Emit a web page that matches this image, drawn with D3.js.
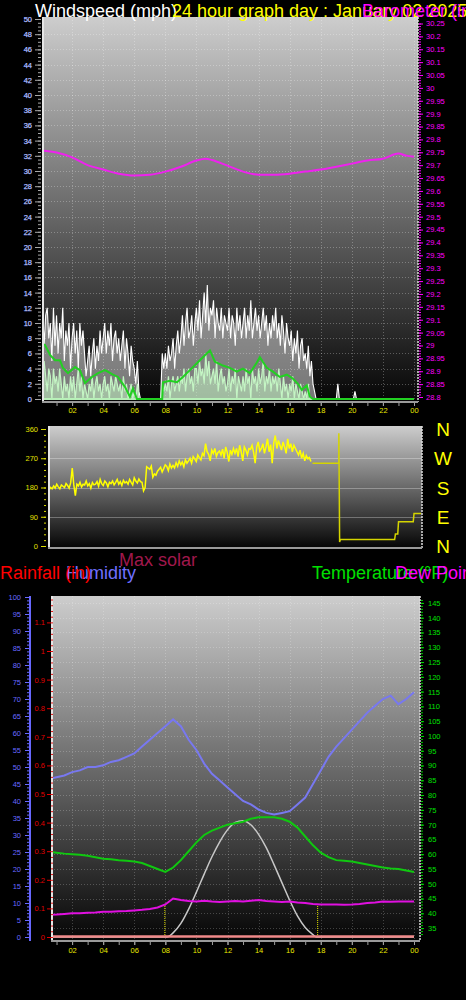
<!DOCTYPE html>
<html><head><meta charset="utf-8">
<script src="https://cdn.jsdelivr.net/npm/d3@7"></script>
<style>body{margin:0;background:#000}svg{display:block}text{font-family:"Liberation Sans",Arial,sans-serif}</style>
</head><body><svg id="c" width="466" height="1000"></svg>
<script>
// ---------------- DATA ----------------
const xLabelHours = [2,4,6,8,10,12,14,16,18,20,22,24];
const xLabels = ["02","04","06","08","10","12","14","16","18","20","22","00"];

// wind gust (mph), 6-minute samples from 00:00
const gust = [
9,12,7,11,12,8,10,5,12,7, 11,6,10,8,12,5,9,7,10,4, 8,10,6,9,4,10,7,9,6,3,
5,7,3,6,8,4,7,5,9,6, 8,10,6,9,7,10,5,8,9,6, 8,5,7,9,4,8,6,3,7,5,
4,2,5,1,0,0,0,0,0,0, 0,0,0,0,0,0,0,0,6,4, 6,4,7,5,6,8,4,7,9,6,
8,11,7,10,12,8,9,11,7,10, 12,9,13,8,11,14,10,15,9,12, 11,13,8,12,10,9,12,8,11,10,
9,12,8,11,10,7,12,9,11,8, 10,12,8,11,9,13,8,10,12,9, 11,8,10,12,9,11,7,10,8,11,
9,12,8,10,7,11,9,6,10,8, 7,9,5,8,6,9,4,7,8,5, 6,4,7,3,5,2,1,0,0,0,
0,0,0,0,0,0,0,0,0,0, 0,2,0,0,0,0,0,0,0,0, 0,0,1,0,0,0,0,0,0,0,
0,0,0,0,0,0,0,0,0,0, 0,0,0,0,0,0,0,0,0,0, 0,0,0,0,0,0,0,0,0,0, 0];
// wind speed (mph), 6-minute samples
const wind = [
4,2,5,3,1,4,3,0,4,2, 3,1,4,2,0,3,1,2,0,3, 1,3,0,2,4,1,3,0,2,1,
0,2,1,3,0,2,3,1,2,0, 2,3,1,2,0,3,2,1,3,2, 1,2,0,3,1,2,0,1,2,0,
1,0,2,0,0,0,0,0,0,0, 0,0,0,0,0,0,0,0,2,1, 2,1,3,0,2,3,1,2,3,1,
3,2,4,1,3,4,2,3,1,4, 4,2,5,3,4,2,6,3,5,2, 3,4,2,5,1,3,4,2,3,1,
2,4,1,3,2,4,0,3,2,1, 3,1,4,2,3,0,4,2,3,1, 4,2,3,5,1,3,2,4,1,3,
2,3,1,4,2,0,3,1,2,0, 2,1,3,0,2,1,0,2,1,0, 1,0,2,0,0,0,0,0,0,0,
0,0,0,0,0,0,0,0,0,0, 0,0,0,0,0,0,0,0,0,0, 0,0,0,0,0,0,0,0,0,0,
0,0,0,0,0,0,0,0,0,0, 0,0,0,0,0,0,0,0,0,0, 0,0,0,0,0,0,0,0,0,0, 0];
// average wind speed
const avgHours  = [0,0.26,0.58,0.9,1.22,1.41,1.74,2.19,2.5,2.83,3.28,3.67,4.12,4.63,4.95,5.4,5.72,5.92,6.17,7.8,7.85,8.3,8.75,9.13,9.58,10.03,10.42,10.87,11.19,11.7,12.15,12.6,12.99,13.44,13.89,14.08,14.53,14.92,15.37,15.82,16.2,16.53,16.78,17.1,17.3,17.5,24];
const avgValues = [7.3,7.1,5.8,5.1,5.1,4.1,3.4,4.2,3.8,2.1,2.9,3.4,3.8,3.2,2.9,1.6,0.3,1.4,0,0,2.2,2.4,2.2,2.9,3.8,4.7,5.5,6.4,4.9,4.4,4.1,3.6,4.0,3.4,4.8,5.5,4.1,3.6,2.9,3.2,2.7,2.0,1.2,1.8,0.3,0,0];
// barometer (inHg)
const baroHours  = [0,1,2,3,4,5,6,7,8,9,10,10.6,11,12,13,14,15,16,17,18,19,20,21,22,23,23.5,24];
const baroValues = [29.757,29.749,29.73,29.70,29.683,29.667,29.66,29.663,29.675,29.694,29.718,29.725,29.72,29.698,29.675,29.663,29.663,29.667,29.675,29.683,29.694,29.706,29.718,29.725,29.745,29.737,29.733];

// wind direction (deg), 6-minute samples 00:00-17:00
const dirValues = [
172,180,176,185,178,190,182,176,188,184, 180,192,186,178,195,240,188,155,190,185,
196,182,190,188,200,185,192,178,195,188, 190,198,184,205,192,186,200,194,182,196,
192,200,188,196,205,190,198,186,202,194, 198,190,205,196,188,210,200,194,206,198,
196,170,180,244,240,236,246,212,222,218, 230,236,242,228,238,250,245,232,252,240,
248,240,256,245,262,250,258,244,265,255, 262,270,255,275,268,260,280,272,265,285,
278,315,290,282,262,295,285,300,276,288, 292,280,298,270,305,288,260,295,282,300,
285,300,275,310,290,262,305,295,280,300, 298,310,288,255,305,320,292,300,315,285,
305,330,290,312,255,318,340,300,325,310, 295,320,305,285,330,300,315,290,310,300,
290,280,295,270,285,262,278,268,272,260];
const dirTailHours  = [17.0,18.7,18.7,18.75,18.8,22.3,22.35,22.5,22.55,23.5,23.55,24];
const dirTailValues = [255,255,347,12,20,20,37,37,75,75,100,100];
const compass = ["N","W","S","E","N"];
const compassDeg = [360,270,180,90,0];

// bottom chart, half-hour samples
const humidity = [46,46.5,47,47.5,48.5,49,50,50,50.5,51.5,52,53,54,56,58,60,62,64,62,58,55,51,48,46,44,42,40,39,37.5,36.5,36,36.5,37,39,41,45,49,53,56,58.5,61,63.5,66,68,70,71,68.5,70,72];
const temperature = [61,60.8,60.5,60.2,60,59.8,59.5,59,58.5,58.3,58,57.8,57.5,57,56,55,54,55.5,58,61,64,66.5,68,69,70,70.5,71,72,72.5,72.5,72.5,72,71,69,66,63,60.5,59,58,57.8,57.5,57,56.5,56,55.5,55.2,55,54.5,54];
const dewPoint = [39.5,39.5,39.6,39.8,40,40,40.2,40.3,40.5,40.5,40.7,40.8,41,41.2,41.5,42,43,45,44.5,44.2,44,44.3,44,43.8,44,44.2,44,44.3,44.5,44.2,44,43.8,44,43.7,43.5,43.2,43,43,43,42.9,43,43.2,43.5,43.7,44,43.9,44,44,44];
const solarHours  = [0,8.1,8.5,9,9.5,10,10.5,11,11.5,12,12.5,13,13.5,14,14.5,15,15.5,16,16.5,17,17.5,17.7,24];
const solarValues = [0,0,12,40,82,132,185,236,280,315,337,342,330,302,262,212,160,108,62,28,7,0,0];
const sunHours = [7.97,17.8];
const rainHours = [0,24];
const rainValues = [0,0];

// ---------------- DRAW ----------------
const svg = d3.select("#c");
const defs = svg.append("defs");
svg.append("rect").attr("width",466).attr("height",1000).attr("fill","#000");

function panel(id, x0, x1, y0, y1){
  const g = defs.append("linearGradient").attr("id","g"+id).attr("gradientUnits","userSpaceOnUse")
    .attr("x1",0).attr("x2",0).attr("y1",y0).attr("y2",y1);
  g.append("stop").attr("offset",0).attr("stop-color","#cdcdcd");
  g.append("stop").attr("offset",0.5).attr("stop-color","#6a6a6a");
  g.append("stop").attr("offset",1).attr("stop-color","#050505");
  defs.append("clipPath").attr("id","c"+id).append("rect").attr("x",x0).attr("y",y0).attr("width",x1-x0).attr("height",y1-y0);
  svg.append("rect").attr("x",x0).attr("y",y0).attr("width",x1-x0).attr("height",y1-y0).attr("fill","url(#g"+id+")");
  return svg.append("g").attr("clip-path","url(#c"+id+")");
}
function borders(x0,x1,y0,y1){
  svg.append("line").attr("x1",x0+1).attr("x2",x0+1).attr("y1",y0).attr("y2",y1).attr("stroke","#e6e6e6").attr("stroke-width",2);
  svg.append("line").attr("x1",x1).attr("x2",x1).attr("y1",y0).attr("y2",y1).attr("stroke","#dcdcdc").attr("stroke-width",1.5).attr("stroke-dasharray","2,1");
  svg.append("line").attr("x1",x0).attr("x2",x1).attr("y1",y1).attr("y2",y1).attr("stroke","#9a9a9a").attr("stroke-width",2);
}
function axis(gen, x, y, color, fontSize){
  const g = svg.append("g").attr("transform",`translate(${x},${y})`).call(gen);
  g.select(".domain").remove();
  g.selectAll("line").attr("stroke",color);
  g.selectAll("text").attr("fill",color).attr("font-size",fontSize).attr("font-family","Liberation Sans, Arial, sans-serif");
  return g;
}
const fmtNum = d => String(+d.toFixed(2));

// ===== Top panel: wind & barometer =====
const T = {x0:42, x1:418, y0:17, y1:402};
const xTop = d3.scaleLinear().domain([0,24]).range([41,414]);
const yWind = d3.scaleLinear().domain([0,50]).range([399,19]);
const yBaro = d3.scaleLinear().domain([28.8,30.25]).range([397,23.5]);
const gTop = panel("top", T.x0, T.x1, T.y0, T.y1);

gTop.selectAll(".hg").data(d3.range(2,50,2)).join("line")
  .attr("x1",T.x0).attr("x2",T.x1).attr("y1",d=>Math.round(yWind(d))+0.5).attr("y2",d=>Math.round(yWind(d))+0.5)
  .attr("stroke","#ffffff").attr("stroke-opacity",0.28).attr("stroke-dasharray","1,2");
gTop.selectAll(".vg").data(xLabelHours).join("line")
  .attr("x1",d=>Math.round(xTop(d))+0.5).attr("x2",d=>Math.round(xTop(d))+0.5).attr("y1",T.y0).attr("y2",T.y1)
  .attr("stroke","#ffffff").attr("stroke-opacity",0.28).attr("stroke-dasharray","1,2");

const t10 = (d,i)=>xTop(i/10);
gTop.append("path").datum(gust).attr("fill","#ffffff").attr("fill-opacity",0.45)
  .attr("d", d3.area().x(t10).y0(yWind(0)).y1(d=>yWind(d)));
gTop.append("path").datum(gust).attr("fill","none").attr("stroke","#ffffff").attr("stroke-width",1.1)
  .attr("d", d3.line().x(t10).y(d=>yWind(d)));
gTop.append("path").datum(wind).attr("fill","#c4f5c4").attr("fill-opacity",0.55)
  .attr("d", d3.area().x(t10).y0(yWind(0)).y1(d=>yWind(d)));
gTop.append("path").datum(wind).attr("fill","none").attr("stroke","#c4f5c4").attr("stroke-width",1.2)
  .attr("d", d3.line().x(t10).y(d=>yWind(d)));
gTop.append("path").datum(wind.map(()=>0)).attr("fill","none").attr("stroke","#b8f0b8").attr("stroke-width",2)
  .attr("d", d3.line().x(t10).y(d=>yWind(d)));
gTop.append("path").datum(avgHours.map((h,i)=>[h,avgValues[i]])).attr("fill","none").attr("stroke","#22d022").attr("stroke-width",2)
  .attr("d", d3.line().x(d=>xTop(d[0])).y(d=>yWind(d[1])));
gTop.append("path").datum(baroHours.map((h,i)=>[h,baroValues[i]])).attr("fill","none").attr("stroke","#ee22ee").attr("stroke-width",2)
  .attr("d", d3.line().curve(d3.curveMonotoneX).x(d=>xTop(d[0])).y(d=>yBaro(d[1])));
borders(T.x0,T.x1,T.y0,T.y1);

axis(d3.axisLeft(yWind).tickValues(d3.range(0,50.01,0.5)).tickSize(3).tickFormat(""), 41, 0, "#a8a8a8", 0);
axis(d3.axisLeft(yWind).tickValues(d3.range(0,50.01,2)).tickSize(6).tickPadding(3).tickFormat(d3.format("d")), 41, 0, "#a8a8a8", "7.5px")
  .selectAll("text").attr("fill","#eef2ff").attr("stroke","#6f86ff").attr("stroke-width",0.25);
axis(d3.axisRight(yBaro).tickValues(d3.range(28.8,30.2501,0.01)).tickSize(2).tickFormat(""), 419, 0, "#ff00ff", 0);
axis(d3.axisRight(yBaro).tickValues(d3.range(0,30).map(i=>28.8+i*0.05)).tickSize(4).tickPadding(3).tickFormat(fmtNum), 419, 0, "#ff00ff", "7.5px");
axis(d3.axisBottom(xTop).tickValues(d3.range(1,25,1)).tickSize(3).tickFormat(""), 0, 403, "#a0a0a0", 0);
axis(d3.axisBottom(xTop).tickValues(xLabelHours).tickSize(3).tickPadding(2).tickFormat((d,i)=>xLabels[i]), 0, 403, "#a0a0a0", "7.5px")
  .selectAll("text").attr("fill","#e8e800");

// ===== Direction panel =====
const D = {x0:48, x1:422, y0:426, y1:548};
const xDir = d3.scaleLinear().domain([0,24]).range([49,421]);
const yDir = d3.scaleLinear().domain([0,360]).range([546,429]);
const gDir = panel("dir", D.x0, D.x1, D.y0, D.y1);
gDir.selectAll(".hg").data([90,180,270]).join("line")
  .attr("x1",D.x0).attr("x2",D.x1).attr("y1",d=>Math.round(yDir(d))+0.5).attr("y2",d=>Math.round(yDir(d))+0.5)
  .attr("stroke","#ffffff").attr("stroke-opacity",0.3);
gDir.append("path").datum(dirValues).attr("fill","none").attr("stroke","#ffff00").attr("stroke-width",1.5)
  .attr("d", d3.line().x((d,i)=>xDir(i/10)).y(d=>yDir(d)));
gDir.append("path").datum(dirTailHours.map((h,i)=>[h,dirTailValues[i]])).attr("fill","none").attr("stroke","#d4d400").attr("stroke-width",1.5)
  .attr("d", d3.line().x(d=>xDir(d[0])).y(d=>yDir(d[1])));
borders(D.x0,D.x1,D.y0,D.y1);
axis(d3.axisLeft(yDir).tickValues(d3.range(0,360.1,18)).tickSize(2).tickFormat(""), 46, 0, "#e0e000", 0);
axis(d3.axisLeft(yDir).tickValues([0,90,180,270,360]).tickSize(5).tickPadding(3).tickFormat(d3.format("d")), 46, 0, "#e0e000", "7.5px");
svg.selectAll(".cmp").data(compass).join("text").attr("x",443).attr("y",(d,i)=>yDir(compassDeg[i])+7)
  .attr("text-anchor","middle").attr("fill","#ffff00").attr("font-size","19px").text(d=>d);

// ===== Bottom panel =====
const B = {x0:51, x1:420, y0:596, y1:941};
const xBot = d3.scaleLinear().domain([0,24]).range([41,414]);
const yHum = d3.scaleLinear().domain([0,100]).range([937,597]);
const yRain = d3.scaleLinear().domain([0,1]).range([937,651]);
const yTemp = d3.scaleLinear().domain([32,147]).range([937,597]);
const ySolar = d3.scaleLinear().domain([0,1000]).range([937,597]);
const gBot = panel("bot", B.x0, B.x1, B.y0, B.y1);
gBot.selectAll(".hg").data(d3.range(35,146,5)).join("line")
  .attr("x1",B.x0).attr("x2",B.x1).attr("y1",d=>Math.round(yTemp(d))+0.5).attr("y2",d=>Math.round(yTemp(d))+0.5)
  .attr("stroke","#ffffff").attr("stroke-opacity",0.22).attr("stroke-dasharray","1,2");
gBot.selectAll(".vg").data(xLabelHours).join("line")
  .attr("x1",d=>Math.round(xBot(d))+0.5).attr("x2",d=>Math.round(xBot(d))+0.5).attr("y1",B.y0).attr("y2",B.y1)
  .attr("stroke","#ffffff").attr("stroke-opacity",0.22).attr("stroke-dasharray","1,2");
const half = (d,i)=>xBot(i/2);
gBot.append("path").datum(solarHours.map((h,i)=>[h,solarValues[i]])).attr("fill","none").attr("stroke","#c8c8c8").attr("stroke-width",1.5)
  .attr("d", d3.line().curve(d3.curveMonotoneX).x(d=>xBot(d[0])).y(d=>ySolar(d[1])));
gBot.selectAll(".sun").data(sunHours).join("line")
  .attr("x1",d=>xBot(d)).attr("x2",d=>xBot(d)).attr("y1",yTemp(42.5)).attr("y2",yTemp(32))
  .attr("stroke","#e8e800").attr("stroke-width",1).attr("stroke-dasharray","1,1");
gBot.append("path").datum(humidity).attr("fill","none").attr("stroke","#7878f0").attr("stroke-width",2)
  .attr("d", d3.line().x(half).y(d=>yHum(d)));
gBot.append("path").datum(temperature).attr("fill","none").attr("stroke","#10c810").attr("stroke-width",2)
  .attr("d", d3.line().x(half).y(d=>yTemp(d)));
gBot.append("path").datum(dewPoint).attr("fill","none").attr("stroke","#e010e0").attr("stroke-width",2)
  .attr("d", d3.line().x(half).y(d=>yTemp(d)));
gBot.append("path").datum(rainHours.map((h,i)=>[h,rainValues[i]])).attr("fill","none").attr("stroke","#f08a8a").attr("stroke-width",2.5)
  .attr("d", d3.line().x(d=>xBot(d[0])).y(d=>yRain(d[1])-0.5));
borders(B.x0,B.x1,B.y0,B.y1);

// humidity axis
svg.append("line").attr("x1",30).attr("x2",30).attr("y1",596).attr("y2",941).attr("stroke","#6868ff").attr("stroke-width",2);
axis(d3.axisLeft(yHum).tickValues(d3.range(0,100.1,1)).tickSize(2).tickFormat(""), 29, 0, "#6868ff", 0);
axis(d3.axisLeft(yHum).tickValues(d3.range(0,100.1,5)).tickSize(4).tickPadding(4).tickFormat(d3.format("d")), 29, 0, "#6868ff", "7.5px");
// rain axis
axis(d3.axisRight(yRain).tickValues(d3.range(0,1.19,0.02)).tickSize(2).tickFormat(""), 51, 0, "#e01010", 0);
axis(d3.axisLeft(yRain).tickValues(d3.range(0,1.15,0.1)).tickSize(4).tickPadding(2).tickFormat(fmtNum), 51, 0, "#e00000", "7.5px");
// temperature axis
axis(d3.axisRight(yTemp).tickValues(d3.range(33,147,1)).tickSize(2).tickFormat(""), 421, 0, "#00d000", 0);
axis(d3.axisRight(yTemp).tickValues(d3.range(35,146,5)).tickSize(3).tickPadding(4).tickFormat(d3.format("d")), 421, 0, "#00e000", "7.5px");
axis(d3.axisBottom(xBot).tickValues(d3.range(1,25,1)).tickSize(3).tickFormat(""), 0, 942, "#a0a0a0", 0);
axis(d3.axisBottom(xBot).tickValues(xLabelHours).tickSize(3).tickPadding(3).tickFormat((d,i)=>xLabels[i]), 0, 942, "#a0a0a0", "7.5px")
  .selectAll("text").attr("fill","#e8e800");

// ===== Titles =====
const title = (x,y,color,txt)=>svg.append("text").attr("x",x).attr("y",y).attr("fill",color).attr("font-size","18px").text(txt);
title(35,17,"#ffffff","Windspeed (mph)");
title(172,17,"#ffff00","24 hour graph day : January 02 2025");
title(362,17,"#ff00ff","Barometer (inHg)");
title(119,566,"#a0184c","Max solar");
title(66,579,"#7070ff","Humidity");
title(0,579,"#ff0000","Rainfall (in)");
title(312,579,"#00e000","Temperature (°F)");
title(395,579,"#ff00ff","Dew Point (°F)");
</script></body></html>
